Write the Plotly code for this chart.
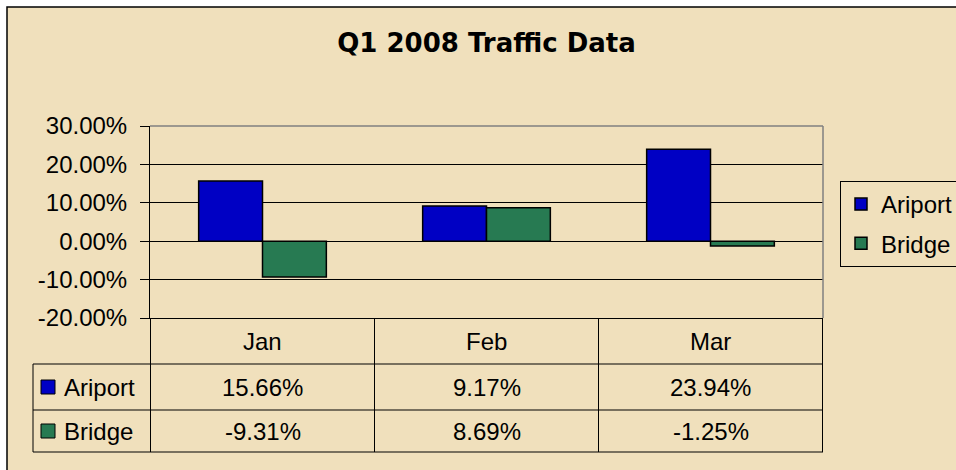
import plotly.graph_objects as go

# ---- data ----
months = ["Jan", "Feb", "Mar"]
series_names = ["Ariport", "Bridge"]
ariport = [0.1566, 0.0917, 0.2394]
bridge = [-0.0931, 0.0869, -0.0125]
y_ticks = [-0.2, -0.1, 0.0, 0.1, 0.2, 0.3]
y_tick_text = [f"{v:.2%}" for v in y_ticks]
title_text = "Q1 2008 Traffic Data"

# ---- style ----
W, H = 956, 470
PL, PR, PT, PB = 150, 823, 126, 318          # plot area in pixels
PARCH = "#F0E0BC"
BLUE = "#0000C4"
GREEN = "#277A52"
FONT = "Liberation Sans, Arial, sans-serif"
FS = 24


def px(x):
    return (x - PL) / (PR - PL)


def py(y):
    return (PB - y) / (PB - PT)


fig = go.Figure()
fig.add_trace(go.Bar(x=months, y=ariport, name=series_names[0], legendgroup="a",
                     marker=dict(color=BLUE, line=dict(color="#000000", width=1.5))))
fig.add_trace(go.Bar(x=months, y=bridge, name=series_names[1], legendgroup="b",
                     marker=dict(color=GREEN, line=dict(color="#000000", width=1.5))))

shapes = []
# outer chart frame (parchment)
shapes.append(dict(type="rect", xref="paper", yref="paper", layer="below",
                   x0=px(7), x1=px(990), y0=py(500), y1=py(7),
                   fillcolor=PARCH, line=dict(color="#000000", width=1.5)))
# plot-area top/right border (grey)
shapes.append(dict(type="line", xref="paper", yref="paper", x0=0, x1=1, y0=1, y1=1,
                   line=dict(color="#808080", width=1.5)))
shapes.append(dict(type="line", xref="paper", yref="paper", x0=1, x1=1, y0=0, y1=1,
                   line=dict(color="#808080", width=1.5)))

# data table grid
row_top, row_mid, row_bot = 364, 410, 452
tbl_left = 33
for b in [i - 0.5 for i in range(len(months) + 1)]:
    shapes.append(dict(type="line", xref="x", yref="paper", x0=b, x1=b,
                       y0=py(row_bot), y1=0, line=dict(color="#000000", width=1)))
for yy in (row_top, row_mid, row_bot):
    shapes.append(dict(type="line", xref="paper", yref="paper", x0=px(tbl_left), x1=1,
                       y0=py(yy), y1=py(yy), line=dict(color="#000000", width=1)))
shapes.append(dict(type="line", xref="paper", yref="paper", x0=px(tbl_left), x1=px(tbl_left),
                   y0=py(row_bot), y1=py(row_top), line=dict(color="#000000", width=1)))

# table legend keys
row_centers = [(row_top + row_mid) / 2, (row_mid + row_bot) / 2]
for yc, col in zip(row_centers, [BLUE, GREEN]):
    shapes.append(dict(type="rect", xref="paper", yref="paper",
                       x0=px(41), x1=px(55), y0=py(yc + 7), y1=py(yc - 7),
                       fillcolor=col, line=dict(color="#000000", width=1)))

annotations = []
hdr_c = (PB + row_top) / 2
tfont = dict(size=FS, color="#000000", family=FONT)
for m in months:
    annotations.append(dict(x=m, y=py(hdr_c), xref="x", yref="paper", text=m,
                            xanchor="center", yanchor="middle",
                            showarrow=False, font=tfont))
for name, vals, yc in zip(series_names, [ariport, bridge], row_centers):
    annotations.append(dict(x=px(62), y=py(yc), xref="paper", yref="paper", text=name,
                            xanchor="left", yanchor="middle", showarrow=False, font=tfont))
    for m, v in zip(months, vals):
        annotations.append(dict(x=m, y=py(yc), xref="x", yref="paper", text=f"{v:.2%}",
                                xanchor="center", yanchor="middle",
                                showarrow=False, font=tfont))

fig.update_layout(
    width=W, height=H,
    margin=dict(l=PL, r=W - PR, t=PT, b=H - PB, autoexpand=False),
    paper_bgcolor="#FFFFFF",
    plot_bgcolor="rgba(0,0,0,0)",
    barmode="group", bargap=0.43, bargroupgap=0,
    title=dict(text=f"<b>{title_text}</b>", x=486.5 / W, xanchor="center",
               y=(H - 43) / H, yanchor="middle",
               font=dict(family="DejaVu Sans, sans-serif", size=26, color="#000000")),
    font=dict(family=FONT, size=FS, color="#000000"),
    showlegend=True,
    legend=dict(x=px(840), xanchor="left", y=py(181), yanchor="top",
                bgcolor="rgba(0,0,0,0)", bordercolor="#000000", borderwidth=1,
                font=dict(family=FONT, size=FS, color="#000000"),
                traceorder="grouped", tracegroupgap=5),
    xaxis=dict(showticklabels=False, showgrid=False, showline=True, linecolor="#000000",
               linewidth=1, ticks="", zeroline=False),
    yaxis=dict(range=[-0.2, 0.3], tickvals=y_ticks, ticktext=y_tick_text,
               showgrid=True, gridcolor="#000000", gridwidth=1,
               zeroline=True, zerolinecolor="#000000", zerolinewidth=1,
               showline=True, linecolor="#000000", linewidth=1,
               ticks="outside", ticklen=9, tickcolor="#000000",
               ticklabelstandoff=8,
               tickfont=dict(family=FONT, size=FS, color="#000000")),
    shapes=shapes,
    annotations=annotations,
)

fig.write_html("out.html", config={"displayModeBar": False},
               post_script="document.body.style.margin='0';document.body.style.overflow='hidden';")
